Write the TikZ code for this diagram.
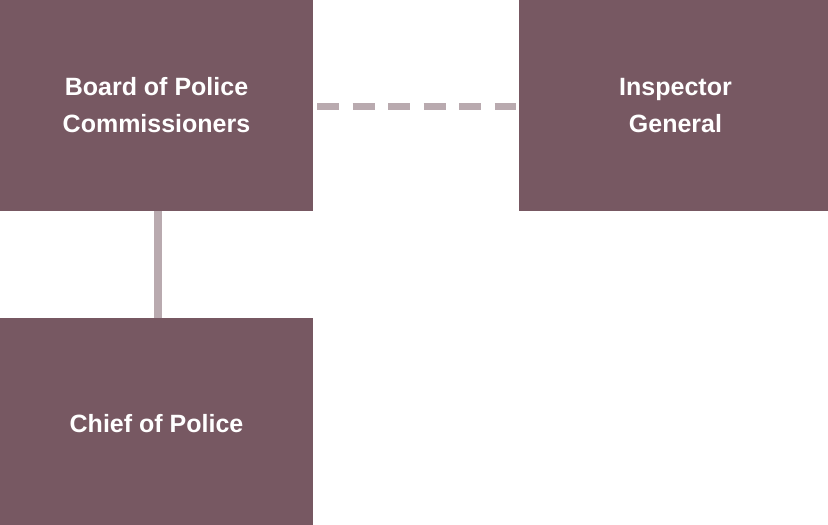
\documentclass[tikz,border=0pt]{standalone}
\usepackage{fontspec}
\setmainfont{Liberation Sans}
\usepackage{tikz}
\usetikzlibrary{positioning}
\definecolor{boxplum}{HTML}{775862}
\definecolor{linkgrey}{HTML}{B9AAAF}

\begin{document}
\begin{tikzpicture}[x=1pt, y=-1pt,
  orgbox/.style={rectangle, fill=boxplum, text=white, align=center,
    minimum width=313pt, minimum height=211pt, inner sep=0, outer sep=0,
    font=\fontsize{25}{37}\selectfont\bfseries},
  solidlink/.style={linkgrey, line width=7.5pt},
  dashlink/.style={linkgrey, line width=7pt, dash pattern=on 22pt off 13.5pt}]
  \useasboundingbox (0,0) rectangle (828,525);

  \node [orgbox, anchor=north west] (board) at (0,0) {Board of Police\\Commissioners};
  \node [orgbox, right=206pt of board] (inspector) {Inspector\\General};
  \node [orgbox, below=107pt of board] (chief) {Chief of Police};

  \draw [solidlink] ([xshift=1.5pt]board.south) -- ([xshift=1.5pt]chief.north);
  \draw [dashlink, shorten <=4pt, shorten >=3pt] ([yshift=-1pt]board.east) -- ([yshift=-1pt]inspector.west);
\end{tikzpicture}
\end{document}
